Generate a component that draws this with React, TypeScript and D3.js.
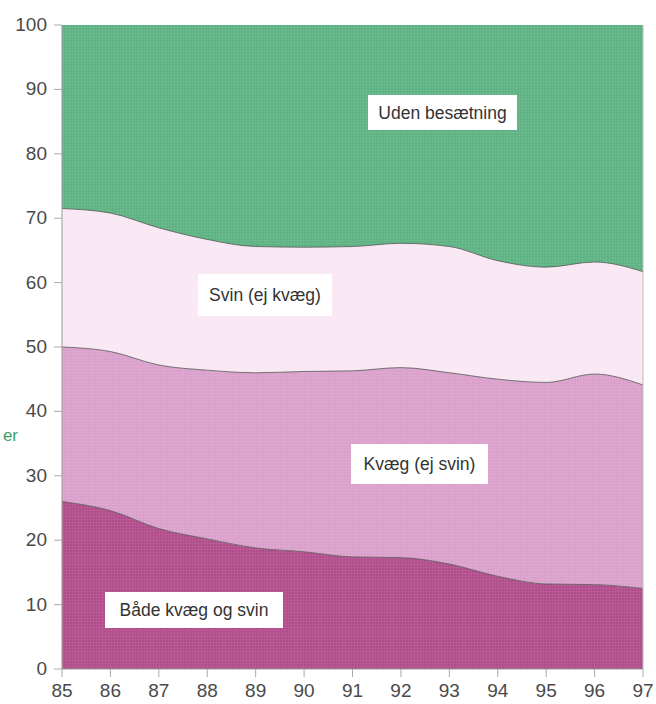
import React from "react";
import * as d3 from "d3";

const years = [85, 86, 87, 88, 89, 90, 91, 92, 93, 94, 95, 96, 97];
const bade = [26.0, 24.6, 21.8, 20.2, 18.8, 18.2, 17.4, 17.3, 16.3, 14.4, 13.2, 13.1, 12.5];
const kvaeg = [24.0, 24.7, 25.4, 26.2, 27.2, 28.0, 28.9, 29.5, 29.7, 30.6, 31.3, 32.7, 31.6];
const svin = [21.5, 21.5, 21.3, 20.3, 19.6, 19.3, 19.3, 19.3, 19.6, 18.4, 17.9, 17.4, 17.6];
const uden = [28.5, 29.2, 31.5, 33.3, 34.4, 34.5, 34.4, 33.9, 34.4, 36.6, 37.6, 36.8, 38.3];
const seriesKeys = ["bade", "kvaeg", "svin", "uden"];
const seriesLabels = ["Både kvæg og svin", "Kvæg (ej svin)", "Svin (ej kvæg)", "Uden besætning"];
const seriesColors = ["#b24d8c", "#daa0cb", "#f9e8f3", "#5db383"];
const yTicks = [0, 10, 20, 30, 40, 50, 60, 70, 80, 90, 100];

const W = 656, H = 704;
const left = 62, right = 643, top = 25, bottom = 669;

// label box placement (pixel layout)
const labelBoxes = [
  { x: 105, y: 592, w: 178, h: 36 },
  { x: 351, y: 444, w: 137, h: 40 },
  { x: 198, y: 274, w: 134, h: 42 },
  { x: 368, y: 95, w: 149, h: 35 },
];

export default function App() {
  const x = d3.scaleLinear().domain([85, 97]).range([left, right]);
  const y = d3.scaleLinear().domain([0, 100]).range([bottom, top]);
  const table = years.map((yr, i) => ({
    year: yr,
    bade: bade[i],
    kvaeg: kvaeg[i],
    svin: svin[i],
    uden: uden[i],
  }));
  const stacked = d3.stack<any>().keys(seriesKeys)(table);
  const area = d3
    .area<any>()
    .x((d) => x(d.data.year))
    .y0((d) => y(d[0]))
    .y1((d) => y(Math.min(d[1], 100)))
    .curve(d3.curveMonotoneX);
  const line = d3
    .line<any>()
    .x((d) => x(d.data.year))
    .y((d) => y(d[1]))
    .curve(d3.curveMonotoneX);

  const font = "'Liberation Sans', Arial, sans-serif";

  return (
    <svg
      width={W}
      height={H}
      style={{ position: "absolute", left: 0, top: 0, background: "#fff" }}
    >
      <defs>
        <pattern id="weave" width="3" height="3" patternUnits="userSpaceOnUse">
          <rect x="0" y="0" width="3" height="1" fill="#fff" opacity="0.06" />
          <rect x="0" y="0" width="1" height="3" fill="#fff" opacity="0.06" />
        </pattern>
        <clipPath id="plotclip">
          <rect x={left} y={top} width={right - left} height={bottom - top} />
        </clipPath>
      </defs>
      <g clipPath="url(#plotclip)">
        {stacked.map((s, i) => (
          <path key={s.key} d={area(s) as string} fill={seriesColors[i]} />
        ))}
        <rect x={left} y={top} width={right - left} height={bottom - top} fill="url(#weave)" />
        {stacked.slice(0, 3).map((s) => (
          <path
            key={"l" + s.key}
            d={line(s) as string}
            fill="none"
            stroke="#555"
            strokeWidth={1}
            opacity={0.8}
          />
        ))}
      </g>
      {/* axes */}
      <line x1={left} x2={left} y1={top} y2={bottom} stroke="#999" strokeWidth={1} />
      <line x1={right} x2={right} y1={top} y2={bottom} stroke="#bbb" strokeWidth={1} />
      <line x1={left} x2={right} y1={bottom} y2={bottom} stroke="#999" strokeWidth={1} />
      {yTicks.map((t) => (
        <g key={"y" + t}>
          <line x1={left - 8} x2={left} y1={y(t)} y2={y(t)} stroke="#aaa" strokeWidth={1} />
          <text
            x={left - 15}
            y={y(t) + 6}
            textAnchor="end"
            fontSize={19}
            fill="#4a4a4a"
            fontFamily={font}
          >
            {t}
          </text>
        </g>
      ))}
      {years.map((yr) => (
        <g key={"x" + yr}>
          <line x1={x(yr)} x2={x(yr)} y1={bottom} y2={bottom + 8} stroke="#aaa" strokeWidth={1} />
          <text
            x={x(yr)}
            y={bottom + 28}
            textAnchor="middle"
            fontSize={19}
            fill="#4a4a4a"
            fontFamily={font}
          >
            {yr}
          </text>
        </g>
      ))}
      {/* series labels */}
      {labelBoxes.map((b, i) => (
        <g key={"lb" + i}>
          <rect x={b.x} y={b.y} width={b.w} height={b.h} fill="#fff" />
          <text
            x={b.x + b.w / 2}
            y={b.y + b.h / 2 + 6}
            textAnchor="middle"
            fontSize={17.5}
            fill="#333"
            fontFamily={font}
          >
            {seriesLabels[i]}
          </text>
        </g>
      ))}
      <text x={18} y={441} textAnchor="end" fontSize={17} fill="#3d9e66" fontFamily={font}>
        er
      </text>
    </svg>
  );
}
